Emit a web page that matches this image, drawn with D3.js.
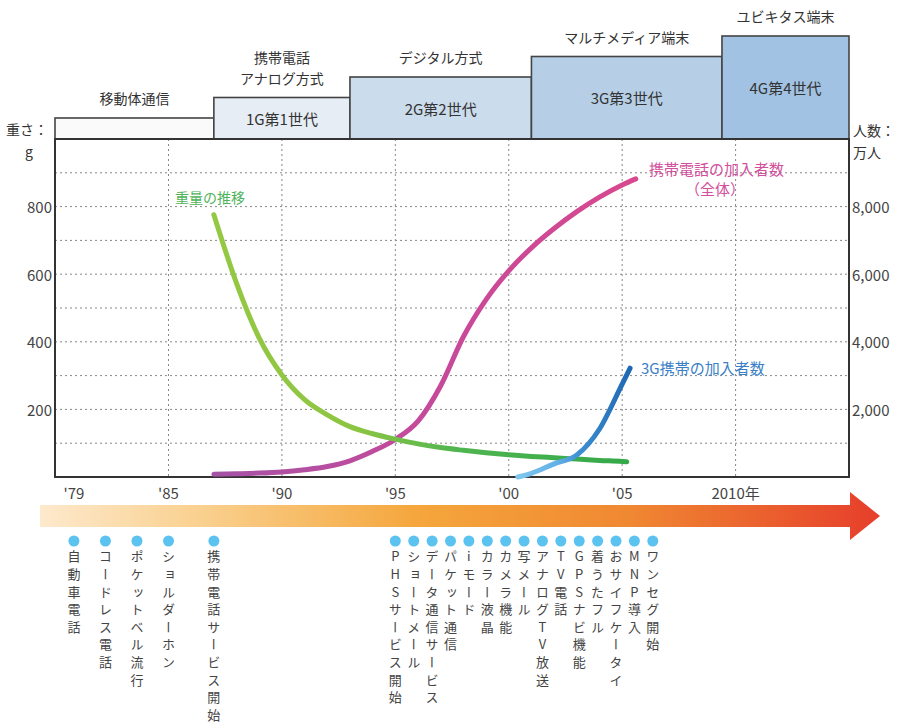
<!DOCTYPE html>
<html>
<head>
<meta charset="utf-8">
<script src="https://cdn.jsdelivr.net/npm/d3@7"></script>
<style>
  html, body { margin: 0; padding: 0; background: #fff; }
  svg { display: block; }
  text { font-family: "Noto Sans CJK JP", "Liberation Sans", sans-serif; }
</style>
</head>
<body>
<svg id="chart" width="903" height="727"></svg>
<script>
// ---- data ----
const weightYears = [1987, 1988, 1989, 1990, 1991, 1992, 1993, 1994, 1995, 1996, 1997, 1998, 1999, 2000, 2001, 2002, 2003, 2004, 2005, 2005.2];
const weightValues = [776, 573, 411, 302, 229, 184, 149, 128, 112, 98, 87, 79, 72, 66, 61, 57, 53, 49, 46, 45];

const subsYears = [1987, 1988, 1989, 1990, 1991, 1992, 1993, 1994, 1995, 1996, 1997, 1998, 1999, 2000, 2001, 2002, 2003, 2004, 2005, 2005.6];
const subsValues = [80, 95, 115, 150, 215, 310, 480, 760, 1110, 1650, 2700, 4150, 5250, 6100, 6780, 7350, 7850, 8280, 8640, 8820];

const g3Years = [2000.4, 2001, 2002, 2003, 2004, 2005, 2005.35];
const g3Values = [0, 110, 390, 650, 1420, 2750, 3220];

const xTickYears = [1979, 1985, 1990, 1995, 2000, 2005, 2010];
const xTickLabels = ["'79", "'85", "'90", "'95", "'00", "'05", "2010年"];
const gridYears = [1985, 1990, 1995, 2000, 2005, 2010];
const leftTicks = [200, 400, 600, 800];
const rightTicks = [2000, 4000, 6000, 8000];

const genNames = ["", "1G第1世代", "2G第2世代", "3G第3世代", "4G第4世代"];
const genTitles = [["移動体通信"], ["携帯電話", "アナログ方式"], ["デジタル方式"], ["マルチメディア端末"], ["ユビキタス端末"]];
const genStart = [1977.8, 1987, 1993, 2001, 2009.4];
const genEnd = [1987, 1993, 2001, 2009.4, 2015];
const genColors = ["#fafafa", "#e6edf4", "#cbdcec", "#b6cfe7", "#a1c2e2"];

const earlyEvents = ["自動車電話", "コードレス電話", "ポケットベル流行", "ショルダーホン", "携帯電話サービス開始"];
const earlyYears = [1979, 1981, 1983, 1985, 1987];
const laterEvents = ["PHSサービス開始", "ショートメール", "データ通信サービス", "パケット通信", "iモード", "カラー液晶", "カメラ機能", "写メール", "アナログTV放送", "TV電話", "GPSナビ機能", "着うたフル", "おサイフケータイ", "MNP導入", "ワンセグ開始"];

// ---- layout ----
const svg = d3.select("#chart");
const plotTop = 139, plotBottom = 477;

const x = d3.scaleLinear().domain([1977.8, 1985, 2015]).range([55, 168.5, 849]);
const yW = d3.scaleLinear().domain([0, 1000]).range([plotBottom, plotTop]);
const yS = d3.scaleLinear().domain([0, 10000]).range([plotBottom, plotTop]);
const tierTop = d3.scaleLinear().domain([0, 4]).range([118, 36]);

const plotLeft = x.range()[0], plotRight = x.range()[2];

// gradients
const defs = svg.append("defs");
function addGrad(id, x1, x2, stops) {
  const gr = defs.append("linearGradient").attr("id", id)
    .attr("gradientUnits", "userSpaceOnUse")
    .attr("x1", x1).attr("x2", x2).attr("y1", 0).attr("y2", 0);
  stops.forEach(s => gr.append("stop").attr("offset", s[0]).attr("stop-color", s[1]));
}
addGrad("gWeight", x(1987), x(2005), [[0, "#95c843"], [0.35, "#8cc543"], [0.6, "#4fb550"], [1, "#35a94a"]]);
addGrad("gSubs", x(1987), x(2005.6), [[0, "#a553a6"], [0.45, "#c34a9c"], [1, "#d8488f"]]);
addGrad("g3g", x(2000.4), x(2005.35), [[0, "#80c6ef"], [0.35, "#62b1e6"], [0.55, "#3d8fd2"], [1, "#1e68b3"]]);
addGrad("gArrow", 40, 880, [[0, "#fde9cc"], [0.2, "#f9cf8c"], [0.45, "#f5a63c"], [0.7, "#f08832"], [1, "#e63e2b"]]);

// ---- generation header boxes ----
genNames.forEach((name, i) => {
  const x0 = x(genStart[i]), x1 = x(genEnd[i]), top = tierTop(i);
  svg.append("rect")
    .attr("x", x0).attr("y", top)
    .attr("width", x1 - x0).attr("height", plotTop - top)
    .attr("fill", genColors[i])
    .attr("stroke", "#444").attr("stroke-width", 1.6);
  if (name) {
    svg.append("text")
      .attr("x", (x0 + x1) / 2).attr("y", (top + plotTop) / 2)
      .attr("text-anchor", "middle").attr("dominant-baseline", "central")
      .attr("font-size", 15).attr("fill", "#333")
      .text(name);
  }
  const lines = genTitles[i];
  lines.forEach((t, j) => {
    svg.append("text")
      .attr("x", (x0 + x1) / 2)
      .attr("y", top - 20 - (lines.length - 1 - j) * 21)
      .attr("text-anchor", "middle").attr("dominant-baseline", "central")
      .attr("font-size", 14).attr("fill", "#333")
      .text(t);
  });
});

// ---- plot frame & grid ----
svg.append("rect")
  .attr("x", plotLeft).attr("y", plotTop)
  .attr("width", plotRight - plotLeft).attr("height", plotBottom - plotTop)
  .attr("fill", "#fff");

const grid = svg.append("g").attr("stroke", "#888").attr("stroke-width", 1).attr("stroke-dasharray", "2,3");
grid.selectAll(".hg").data(d3.range(100, 1000, 100)).enter().append("line")
  .attr("x1", plotLeft).attr("x2", plotRight)
  .attr("y1", d => yW(d)).attr("y2", d => yW(d));
grid.selectAll(".vg").data(gridYears).enter().append("line")
  .attr("x1", d => x(d)).attr("x2", d => x(d))
  .attr("y1", plotTop).attr("y2", plotBottom);

svg.append("rect")
  .attr("x", plotLeft).attr("y", plotTop)
  .attr("width", plotRight - plotLeft).attr("height", plotBottom - plotTop)
  .attr("fill", "none").attr("stroke", "#333").attr("stroke-width", 2);

// axis labels
svg.selectAll(".lt").data(leftTicks).enter().append("text")
  .attr("x", 52).attr("y", d => yW(d))
  .attr("text-anchor", "end").attr("dominant-baseline", "central")
  .attr("font-family", "Liberation Sans, Arial, sans-serif")
  .attr("font-size", 15).attr("fill", "#444")
  .text(d => d);
svg.selectAll(".rt").data(rightTicks).enter().append("text")
  .attr("x", 852).attr("y", d => yS(d))
  .attr("dominant-baseline", "central")
  .attr("font-family", "Liberation Sans, Arial, sans-serif")
  .attr("font-size", 15).attr("fill", "#444")
  .text(d => d3.format(",")(d));
svg.selectAll(".xt").data(xTickYears).enter().append("text")
  .attr("x", d => x(d)).attr("y", 492)
  .attr("text-anchor", "middle").attr("dominant-baseline", "central")
  .attr("font-family", "Liberation Sans, Arial, sans-serif")
  .attr("font-size", 15).attr("fill", "#444")
  .text((d, i) => xTickLabels[i]);

svg.append("text").attr("x", 48).attr("y", 129).attr("text-anchor", "end")
  .attr("dominant-baseline", "central").attr("font-size", 14).attr("fill", "#333").text("重さ：");
svg.append("text").attr("x", 29).attr("y", 151).attr("text-anchor", "middle")
  .attr("dominant-baseline", "central").attr("font-size", 14).attr("fill", "#333").text("g");
svg.append("text").attr("x", 853).attr("y", 130)
  .attr("dominant-baseline", "central").attr("font-size", 14).attr("fill", "#333").text("人数：");
svg.append("text").attr("x", 853).attr("y", 152)
  .attr("dominant-baseline", "central").attr("font-size", 14).attr("fill", "#333").text("万人");

// ---- curves ----
const lineW = d3.line().x((d, i) => x(weightYears[i])).y(d => yW(d)).curve(d3.curveMonotoneX);
const lineS = d3.line().x((d, i) => x(subsYears[i])).y(d => yS(d)).curve(d3.curveMonotoneX);
const line3 = d3.line().x((d, i) => x(g3Years[i])).y(d => yS(d)).curve(d3.curveMonotoneX);

svg.append("path").attr("d", lineS(subsValues)).attr("fill", "none")
  .attr("stroke", "url(#gSubs)").attr("stroke-width", 5).attr("stroke-linecap", "round");
svg.append("path").attr("d", lineW(weightValues)).attr("fill", "none")
  .attr("stroke", "url(#gWeight)").attr("stroke-width", 5).attr("stroke-linecap", "round");
svg.append("path").attr("d", line3(g3Values)).attr("fill", "none")
  .attr("stroke", "url(#g3g)").attr("stroke-width", 5).attr("stroke-linecap", "round");

svg.append("text").attr("x", 175).attr("y", 197).attr("dominant-baseline", "central")
  .attr("font-size", 14).attr("fill", "#4fb35a").text("重量の推移");
svg.append("text").attr("x", 649).attr("y", 168).attr("dominant-baseline", "central")
  .attr("font-size", 15).attr("fill", "#d2509c").text("携帯電話の加入者数");
svg.append("text").attr("x", 715).attr("y", 188).attr("text-anchor", "middle").attr("dominant-baseline", "central")
  .attr("font-size", 15).attr("fill", "#d2509c").text("（全体）");
svg.append("text").attr("x", 641).attr("y", 367).attr("dominant-baseline", "central")
  .attr("font-size", 15).attr("fill", "#3a7fc6").text("3G携帯の加入者数");

// ---- timeline arrow ----
svg.append("path")
  .attr("d", "M40,505 L850,505 L850,492 L880,516 L850,540 L850,527 L40,527 Z")
  .attr("fill", "url(#gArrow)");

// ---- events ----
const laterX = d3.scalePoint().domain(laterEvents).range([x(1995), x(2006.35)]);
const events = earlyEvents.map((e, i) => ({ label: e, cx: x(earlyYears[i]) }))
  .concat(laterEvents.map(e => ({ label: e, cx: laterX(e) })));

const ev = svg.selectAll(".ev").data(events).enter().append("g").attr("class", "ev");
ev.append("circle")
  .attr("cx", d => d.cx).attr("cy", 541).attr("r", 5.5)
  .attr("fill", "#5cc2ef");
ev.append("text")
  .attr("x", d => d.cx).attr("y", 550)
  .style("writing-mode", "vertical-rl")
  .style("text-orientation", "upright")
  .attr("font-size", 13)
  .attr("letter-spacing", 4.6)
  .attr("fill", "#444")
  .text(d => d.label);
</script>
</body>
</html>
